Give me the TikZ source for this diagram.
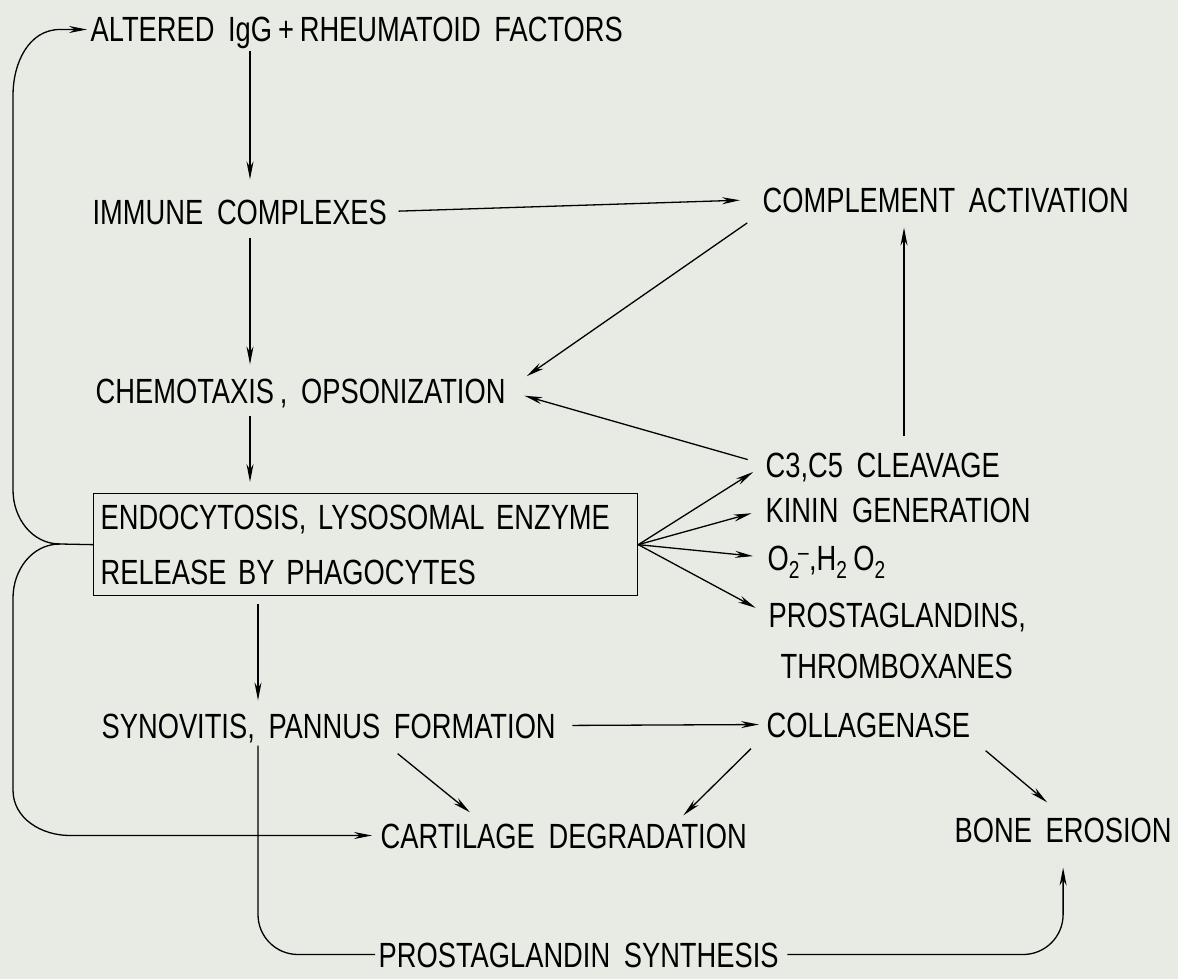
\documentclass[tikz,border=0pt]{standalone}
\usepackage{fontspec}
\setmainfont[FakeStretch=0.78,WordSpace=1.8]{Liberation Sans}
\usetikzlibrary{arrows.meta,calc}
\definecolor{paper}{RGB}{231,235,227}

\begin{document}
\begin{tikzpicture}[x=1pt,y=-1pt,line width=1.3pt,
    lbl/.style={anchor=base west,inner sep=0pt,text height=25pt,text depth=0pt,
      font=\fontsize{35}{40}\selectfont},
    arr/.style={-{Stealth[length=18pt,width=7pt]}}]
        % the sheet
        \fill[paper] (0,0) rectangle (1178,979);
        \useasboundingbox (0,0) rectangle (1178,979);
        \coordinate (col) at (250,0);
        \coordinate (colb) at (258,0);
        \coordinate (colc) at (904,0);
        \coordinate (fork) at (60,544);

        % left column
        \node[lbl] (alt) at (90,42) {ALTERED IgG\,+\,RHEUMATOID FACTORS};
        \node[lbl] (imm) at (92,224) {IMMUNE COMPLEXES};
        \node[lbl] (chem) at (95,403) {CHEMOTAXIS\,, OPSONIZATION};
        \node[draw,anchor=north west,inner xsep=7pt,text width=530pt,align=left,
          minimum height=102pt,font=\fontsize{35}{55}\selectfont] (box) at (93,493)
          {ENDOCYTOSIS, LYSOSOMAL ENZYME\\RELEASE BY PHAGOCYTES};
        \node[lbl] (syn) at (101,738) {SYNOVITIS, PANNUS FORMATION};
        \node[lbl] (cart) at (380,848) {CARTILAGE DEGRADATION};
        \node[lbl] (psyn) at (378,967) {PROSTAGLANDIN SYNTHESIS};

        % right column
        \node[lbl] (comp) at (762,212) {COMPLEMENT ACTIVATION};
        \node[lbl] (c3) at (765,477) {C3,C5 CLEAVAGE};
        \node[lbl] (kin) at (765,522) {KININ GENERATION};
        \node[lbl] (oxy) at (767,570) {O\textsubscript{2}\textsuperscript{\kern-2pt–},H\textsubscript{2}\,O\textsubscript{2}};
        \node[lbl] (pgs) at (768,627) {PROSTAGLANDINS,};
        \node[lbl] (txa) at (780,678) {THROMBOXANES};
        \node[lbl] (coll) at (766,737) {COLLAGENASE};
        \node[lbl] (bone) at (954,842) {BONE EROSION};

        % down the middle
        \draw[arr,shorten <=8pt,shorten >=19pt] (alt.south -| col) -- (imm.north -| col);
        \draw[arr,shorten <=13pt,shorten >=13pt] (imm.south -| col) -- (chem.north -| col);
        \draw[arr,shorten <=12pt,shorten >=11pt] (chem.south -| col) -- (box.north -| col);
        \draw[arr,shorten <=8pt,shorten >=12pt] (box.south -| colb) -- (syn.north -| colb);
        \draw[rounded corners=40pt,shorten <=7pt,shorten >=3pt] (syn.south -| colb) |- (psyn.west);
        \draw[arr,rounded corners=40pt,shorten <=8pt,shorten >=25pt] (psyn.east) -| (bone.south);

        % complement loop
        \draw[arr,shorten <=11pt,shorten >=22pt] (imm.east) -- (comp.west);
        \draw[arr,shorten <=18pt,shorten >=25pt] (comp.south west) -- (chem.east);
        \draw[arr,shorten <=18pt,shorten >=19pt] (c3.west) -- (chem.east);
        \draw[arr,shorten <=15pt,shorten >=15pt] (c3.north -| colc) -- (comp.south -| colc);

        % fan out of the box
        \foreach \n in {c3,kin,oxy,pgs}
          \draw[arr,shorten >=14pt] (box.east) -- (\n.west);

        % damage
        \draw[arr,shorten <=16pt,shorten >=7pt] (syn.east) -- (coll.west);
        \draw[arr] ($(syn.south)+(69,15)$) -- ($(cart.north west)+(90,-10)$);
        \draw[arr] ($(coll.south west)+(-15,11)$) -- ($(cart.north east)+(-64,-7)$);
        \draw[arr] ($(coll.south east)+(15,13)$) -- ($(bone.north)+(-16,-14)$);

        % feedback on the left
        \draw (box.west) -- (fork);
        \draw[arr,shorten >=3pt] (fork) to[out=180,in=-90] (13,490) -- (13,95)
          to[out=90,in=180] ([xshift=-30pt]alt.west) -- (alt.west);
        \draw[arr,shorten >=8pt] (fork) to[out=180,in=90] (13,598) -- (13,790)
          to[out=-90,in=180] ([xshift=-310pt]cart.west) -- (cart.west);
\end{tikzpicture}
\end{document}
